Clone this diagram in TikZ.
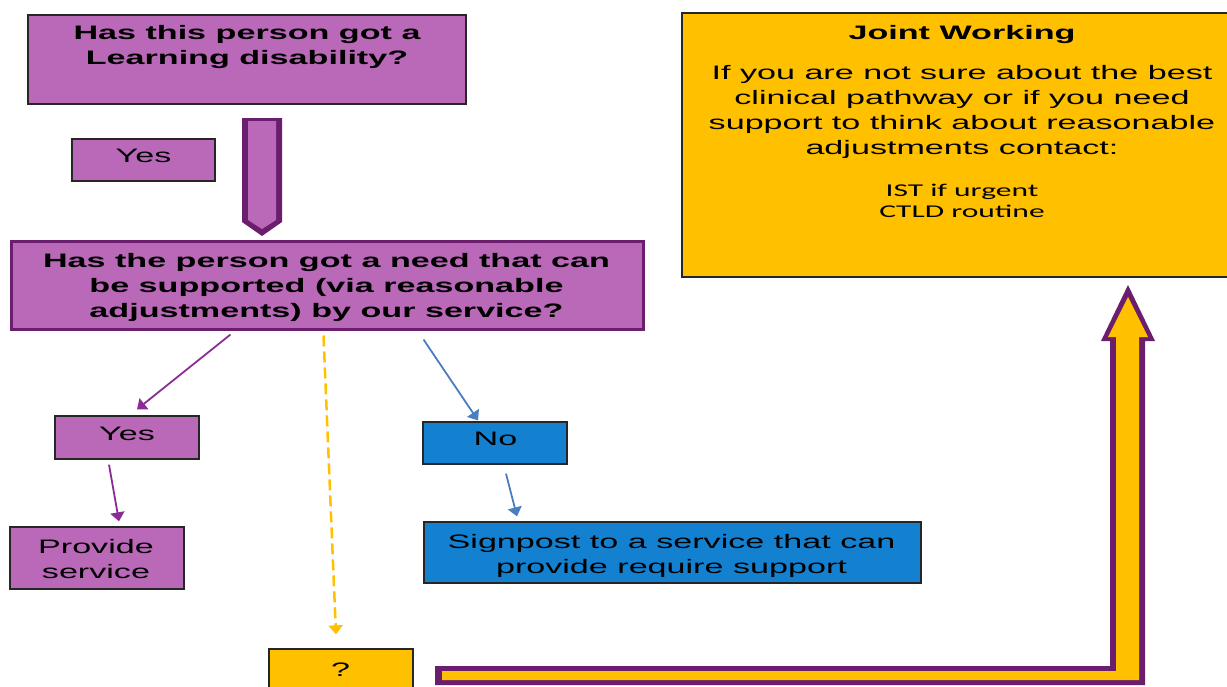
\documentclass[tikz,border=0pt]{standalone}
\usepackage{fontspec}
\setmainfont{Liberation Sans}[FakeStretch=1.75]
\newfontfamily\calfont{Carlito}[FakeStretch=1.75]
\usetikzlibrary{arrows.meta,calc}
\definecolor{lilac}{RGB}{186,104,184}
\definecolor{dpurple}{RGB}{107,30,110}
\definecolor{gold}{RGB}{255,192,0}
\definecolor{bluebox}{RGB}{20,128,208}
\definecolor{pconn}{RGB}{138,43,150}
\definecolor{bconn}{RGB}{74,126,190}
\begin{document}
\begin{tikzpicture}[x=1pt,y=-1pt,
  box/.style={rectangle,draw=black!85,line width=1.3pt,inner sep=0pt},
  lilacbox/.style={box,fill=lilac},
  bluenode/.style={box,fill=bluebox},
  goldbox/.style={box,fill=gold},
  txt/.style={font=\fontsize{19.5}{25.2}\selectfont,align=center,inner sep=0pt,anchor=north},
  btxt/.style={txt,font=\fontsize{19.5}{25.2}\selectfont\bfseries},
  ctxt/.style={inner sep=0pt,anchor=north,align=center,font=\calfont\fontsize{18}{21}\selectfont},
  purplearrow/.style={draw=pconn,line width=1.8pt,-{Triangle[width=14pt,length=9pt]}},
  bluearrow/.style={draw=bconn,line width=1.8pt,-{Triangle[width=14pt,length=9pt]}},
  goldarrow/.style={draw=gold,line width=2.5pt,dash pattern=on 11pt off 5pt,-{Triangle[width=14pt,length=9pt]}}]
\useasboundingbox (0,0) rectangle (1227,686);
\clip (0,0) rectangle (1227,686);

% Top question
\node[lilacbox,minimum width=438pt,minimum height=89pt] (h1) at (247,59.5) {};
\node[btxt] (h1t) at (247,25) {Has this person got a\\Learning disability?};

% Yes 1
\node[lilacbox,minimum width=143pt,minimum height=42pt] (y1) at (143.5,160) {};
\node[txt] (y1t) at (143.5,149) {Yes};

% Down block arrow
\fill[dpurple] (242,118) -- (282,118) -- (282,222) -- (262,236) -- (242,222) -- cycle;
\fill[lilac] (248,121) -- (276,121) -- (276,220) -- (262,229) -- (248,220) -- cycle;

% Second question
\node[rectangle,draw=dpurple,fill=lilac,line width=3pt,inner sep=0pt,minimum width=632pt,minimum height=88pt] (h2) at (327.5,285.5) {};
\node[btxt] (h2t) at (326.5,253) {Has the person got a need that can\\be supported (via reasonable\\adjustments) by our service?};

% Yes 2
\node[lilacbox,minimum width=144pt,minimum height=43pt] (y2) at (127,437.5) {};
\node[txt] (y2t) at (127,427) {Yes};

% Provide service
\node[lilacbox,minimum width=174pt,minimum height=62pt] (prov) at (97,558) {};
\node[txt] (provt) at (96,539) {Provide\\service};

% No
\node[bluenode,minimum width=144pt,minimum height=42pt] (no) at (495,443) {};
\node[txt] (not) at (495.5,432) {No};

% Signpost
\node[bluenode,minimum width=497pt,minimum height=61pt] (sp) at (672.5,552.5) {};
\node[txt] (spt) at (671.5,534) {Signpost to a service that can\\provide require support};

% ?
\node[goldbox,minimum width=144pt,minimum height=51pt] (q) at (341,674.5) {};
\node[txt] (qt) at (340.5,663) {?};

% Joint working
\node[goldbox,minimum width=560pt,minimum height=264pt] (jw) at (962,145) {};
\node[btxt] (jwt) at (962,25) {Joint Working};
\node[txt] (jwb) at (962,65) {If you are not sure about the best\\clinical pathway or if you need\\support to think about reasonable\\adjustments contact:};
\node[ctxt] (jwc) at (962,183.5) {IST if urgent\\CTLD routine};

% L-shaped block arrow
\fill[dpurple] (435,666) -- (1110,666) -- (1110,341) -- (1101,341) -- (1128,285) -- (1155,341) -- (1145,341) -- (1145,685) -- (435,685) -- cycle;
\fill[gold] (442,671) -- (1116,671) -- (1116,337) -- (1108,337) -- (1128,297) -- (1148,337) -- (1139,337) -- (1139,680) -- (442,680) -- cycle;

% Connectors
\draw[purplearrow] ($(h2.south west)+(220.5,3.5)$) -- ($(y2.north)+(10,-6)$);
\draw[goldarrow] ($(h2.south west)+(313.5,4.5)$) -- ($(q.north)+(-5,-14)$);
\draw[bluearrow] ($(h2.south west)+(413.5,8.5)$) -- ($(no.north)+(-17,-1)$);
\draw[purplearrow] ($(y2.south)+(-18,5)$) -- ($(prov.north)+(22,-5)$);
\draw[bluearrow] ($(no.south)+(11,9)$) -- ($(sp.north)+(-155.5,-5)$);
\end{tikzpicture}
\end{document}
